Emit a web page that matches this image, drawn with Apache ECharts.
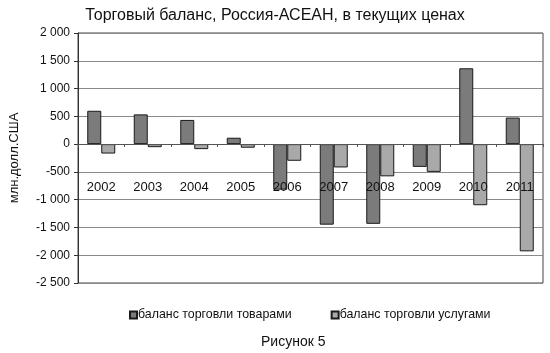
<!DOCTYPE html>
<html>
<head>
<meta charset="utf-8">
<script src="https://cdn.jsdelivr.net/npm/echarts@6/dist/echarts.min.js"></script>
<style>
  html, body { margin: 0; padding: 0; background: #fff; }
  #chart { width: 550px; height: 353px; }
</style>
</head>
<body>
<div id="chart"></div>
<script>
// годы и сальдо, млн. долл. США
var years = ['2002', '2003', '2004', '2005', '2006', '2007', '2008', '2009', '2010', '2011'];
var goodsBalance = [600, 535, 435, 115, -820, -1450, -1435, -410, 1365, 478];
var servicesBalance = [-170, -55, -90, -65, -300, -420, -580, -500, -1100, -1930];
var yTicks = { min: -2500, max: 2000, step: 500 };

function fmt(v) {
    var s = String(Math.abs(v)).replace(/\B(?=(\d{3})+(?!\d))/g, ' ');
    return (v < 0 ? '-' : '') + s;
}

var chart = echarts.init(document.getElementById('chart'));
chart.setOption({
    animation: false,
    textStyle: { fontFamily: 'Liberation Sans, Arial, sans-serif', color: '#111' },
    title: [{
        text: 'Торговый баланс, Россия-АСЕАН, в текущих ценах',
        left: 'center', top: 3,
        textStyle: { fontSize: 16, fontWeight: 'normal', color: '#111' }
    }, {
        text: 'Рисунок 5',
        left: 256, top: 330,
        textStyle: { fontSize: 14, fontWeight: 'normal', color: '#111' }
    }],
    legend: {
        top: 304, left: 124,
        itemGap: 39,
        itemWidth: 7, itemHeight: 7,
        icon: 'rect',
        textStyle: { fontSize: 12.4, color: '#111', padding: [0, 0, 0, -4] },
        data: ['баланс торговли товарами', 'баланс торговли услугами']
    },
    grid: {
        left: 72, right: 7, top: 33, bottom: 70,
        show: true, borderColor: '#444', borderWidth: 1
    },
    xAxis: [{
        // подписи годов внутри области графика
        type: 'category',
        data: years,
        z: 10,
        axisLine: { onZero: false, show: false },
        axisTick: { show: false },
        axisLabel: { margin: -102, fontSize: 13, color: '#111' },
        splitLine: { show: false }
    }, {
        // линия нуля с засечками
        type: 'category',
        data: years,
        position: 'top',
        offset: -111,
        z: 10,
        axisLine: { onZero: false, show: true, lineStyle: { color: '#555' } },
        axisTick: { show: true, inside: true, length: 3, lineStyle: { color: '#555' } },
        axisLabel: { show: false },
        splitLine: { show: false }
    }],
    yAxis: {
        type: 'value',
        min: yTicks.min, max: yTicks.max, interval: yTicks.step,
        name: 'млн.долл.США',
        nameLocation: 'middle',
        nameGap: 57,
        nameTextStyle: { fontSize: 13, color: '#111' },
        axisLine: { show: true, lineStyle: { color: '#333' } },
        axisTick: { show: true, length: 4, lineStyle: { color: '#333' } },
        axisLabel: { fontSize: 12, color: '#111', margin: 8, formatter: fmt },
        splitLine: { lineStyle: { color: '#8a8a8a', width: 1 } }
    },
    series: [{
        name: 'баланс торговли товарами',
        type: 'bar',
        data: goodsBalance,
        barWidth: 14,
        barGap: '0%',
        itemStyle: { color: '#7b7b7b', borderColor: '#1a1a1a', borderWidth: 1 }
    }, {
        name: 'баланс торговли услугами',
        type: 'bar',
        data: servicesBalance,
        barWidth: 14,
        barGap: '0%',
        itemStyle: { color: '#a9a9a9', borderColor: '#1a1a1a', borderWidth: 1 }
    }]
});
</script>
</body>
</html>
